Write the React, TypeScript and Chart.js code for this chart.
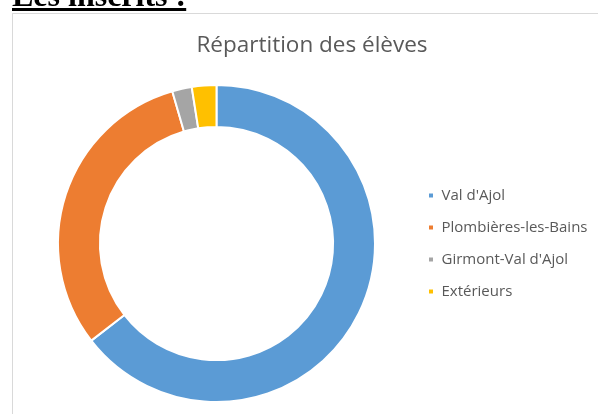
import React, { useEffect, useRef } from "react";
import { Chart, registerables } from "chart.js";

Chart.register(...registerables);

const categories = ["Val d'Ajol", "Plombières-les-Bains", "Girmont-Val d'Ajol", "Extérieurs"];
const values = [129, 62, 4, 5];
const colors = ["#5B9BD5", "#ED7D31", "#A5A5A5", "#FFC000"];
const titleText = "Répartition des élèves";
const headerText = "Les inscrits :";

const LEGEND_WIDTH = 191;

const legendWidthPlugin = {
  id: "legendWidth",
  beforeLayout(chart: any) {
    const lg = chart.legend;
    if (lg && !lg.__patched) {
      const orig = lg.fit.bind(lg);
      lg.fit = function () {
        orig();
        this.width = LEGEND_WIDTH;
      };
      lg.__patched = true;
    }
  },
};

export default function App() {
  const ref = useRef<HTMLCanvasElement | null>(null);

  useEffect(() => {
    if (!ref.current) return;
    const chart = new Chart(ref.current, {
      type: "doughnut",
      data: {
        labels: categories,
        datasets: [
          {
            data: values,
            backgroundColor: colors,
            borderColor: "#ffffff",
            borderWidth: 2,
          },
        ],
      },
      options: {
        responsive: false,
        animation: false,
        radius: 158.5,
        cutout: 121,
        layout: { padding: { left: 22, right: -4, top: 0, bottom: 5 } },
        plugins: {
          tooltip: { enabled: false },
          title: {
            display: true,
            text: titleText,
            color: "#595959",
            font: { family: "'Open Sans'", size: 22.5, weight: "normal" },
            padding: { top: 32, bottom: 19 },
          },
          legend: {
            position: "right",
            fullSize: false,
            labels: {
              boxWidth: 6,
              boxHeight: 6,
              padding: 17,
              color: "#595959",
              font: { family: "'Open Sans'", size: 15 },
            },
          },
        },
      },
      plugins: [legendWidthPlugin],
    });
    return () => chart.destroy();
  }, []);

  return (
    <div>
      <div
        style={{
          position: "absolute",
          left: 12,
          top: 13,
          width: 600,
          height: 420,
          border: "1px solid #d9d9d9",
          boxSizing: "border-box",
          background: "#fff",
        }}
      />
      <canvas
        ref={ref}
        width={598}
        height={414}
        style={{ position: "absolute", left: 0, top: 0, width: 598, height: 414 }}
      />
      <div
        style={{
          position: "absolute",
          left: 12,
          top: -21,
          fontFamily: "'Liberation Serif', serif",
          fontWeight: "bold",
          fontSize: 32,
          lineHeight: "32px",
          textDecoration: "underline",
          whiteSpace: "nowrap",
          color: "#000",
        }}
      >
        {headerText}
      </div>
    </div>
  );
}
